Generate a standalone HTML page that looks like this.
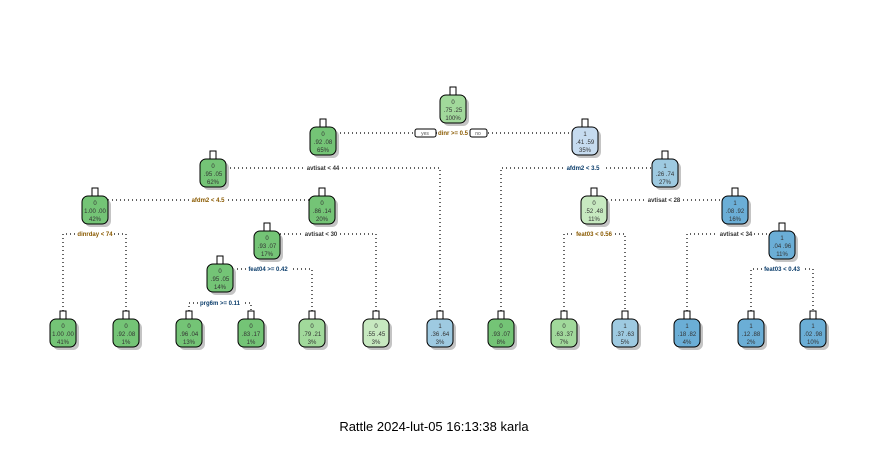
<!DOCTYPE html>
<html><head><meta charset="utf-8"><style>
html,body{margin:0;padding:0;background:#fff;width:876px;height:453px;overflow:hidden}
svg{display:block}
.n text{font-family:"Liberation Sans",sans-serif;font-size:6px;fill:#333;text-anchor:middle}
.sl{font-family:"Liberation Sans",sans-serif;font-size:6px;font-weight:bold;fill:#333;text-anchor:middle}
.ln{stroke:#000;stroke-width:1.2;stroke-dasharray:1,3;fill:none}
</style></head><body>
<svg width="876" height="453" viewBox="0 0 876 453">
<defs>
<g id="nd">
<rect x="-10" y="3" width="26" height="28" rx="6" fill="#c4c4c4"/>
</g>
</defs>
<path class="ln" d="M336 133H570"/>
<path class="ln" d="M226 168H440V319"/>
<path class="ln" d="M501 319V168H652"/>
<path class="ln" d="M108 200H309"/>
<path class="ln" d="M607 200H722"/>
<path class="ln" d="M63 319V234H126V319"/>
<path class="ln" d="M280 234H376V319"/>
<path class="ln" d="M564 319V234H625V319"/>
<path class="ln" d="M687 319V234H769"/>
<path class="ln" d="M233 269H312V319"/>
<path class="ln" d="M751 319V269H813V319"/>
<path class="ln" d="M189 319V303H251V319"/>
<rect x="415" y="129" width="21" height="8" rx="2" fill="#fff" stroke="#000" stroke-width="1"/>
<text x="425" y="135" style="font-family:'Liberation Sans',sans-serif;font-size:5px;fill:#555;text-anchor:middle">yes</text>
<rect x="470" y="129" width="17" height="8" rx="2" fill="#fff" stroke="#000" stroke-width="1"/>
<text x="478" y="135" style="font-family:'Liberation Sans',sans-serif;font-size:5px;fill:#555;text-anchor:middle">no</text>
<rect x="437" y="130" width="32" height="7" fill="#fff"/><text class="sl" x="453" y="135" style="fill:#8a5a00">dinr &gt;= 0.5</text>
<rect x="305" y="165" width="36" height="7" fill="#fff"/><text class="sl" x="323" y="170">avtisat &lt; 44</text>
<rect x="563" y="165" width="40" height="7" fill="#fff"/><text class="sl" x="583" y="170" style="fill:#0b3d6b">afdm2 &lt; 3.5</text>
<rect x="190" y="197" width="36" height="7" fill="#fff"/><text class="sl" x="208" y="202" style="fill:#8a5a00">afdm2 &lt; 4.5</text>
<rect x="646" y="197" width="36" height="7" fill="#fff"/><text class="sl" x="664" y="202">avtisat &lt; 28</text>
<rect x="76" y="231" width="38" height="7" fill="#fff"/><text class="sl" x="95" y="236" style="fill:#8a5a00">dinrday &lt; 74</text>
<rect x="303" y="231" width="36" height="7" fill="#fff"/><text class="sl" x="321" y="236">avtisat &lt; 30</text>
<rect x="575" y="231" width="38" height="7" fill="#fff"/><text class="sl" x="594" y="236" style="fill:#8a5a00">feat03 &lt; 0.56</text>
<rect x="718" y="231" width="36" height="7" fill="#fff"/><text class="sl" x="736" y="236">avtisat &lt; 34</text>
<rect x="246" y="266" width="44" height="7" fill="#fff"/><text class="sl" x="268" y="271" style="fill:#0b3d6b">feat04 &gt;= 0.42</text>
<rect x="762" y="266" width="40" height="7" fill="#fff"/><text class="sl" x="782" y="271" style="fill:#0b3d6b">feat03 &lt; 0.43</text>
<rect x="198" y="300" width="44" height="7" fill="#fff"/><text class="sl" x="220" y="305" style="fill:#0b3d6b">prg6m &gt;= 0.11</text>

<g class="n" transform="translate(453,95)"><use href="#nd"/><rect x="-13" y="0" width="26" height="28" rx="6" fill="#a1d99b" stroke="#000"/><rect x="-3" y="-8" width="6" height="8" fill="#fff" stroke="#000"/><text y="9">0</text><text y="17">.75  .25</text><text y="25">100%</text></g>
<g class="n" transform="translate(323,127)"><use href="#nd"/><rect x="-13" y="0" width="26" height="28" rx="6" fill="#74c476" stroke="#000"/><rect x="-3" y="-8" width="6" height="8" fill="#fff" stroke="#000"/><text y="9">0</text><text y="17">.92  .08</text><text y="25">65%</text></g>
<g class="n" transform="translate(585,127)"><use href="#nd"/><rect x="-13" y="0" width="26" height="28" rx="6" fill="#c6dbef" stroke="#000"/><rect x="-3" y="-8" width="6" height="8" fill="#fff" stroke="#000"/><text y="9">1</text><text y="17">.41  .59</text><text y="25">35%</text></g>
<g class="n" transform="translate(213,159)"><use href="#nd"/><rect x="-13" y="0" width="26" height="28" rx="6" fill="#74c476" stroke="#000"/><rect x="-3" y="-8" width="6" height="8" fill="#fff" stroke="#000"/><text y="9">0</text><text y="17">.95  .05</text><text y="25">62%</text></g>
<g class="n" transform="translate(665,159)"><use href="#nd"/><rect x="-13" y="0" width="26" height="28" rx="6" fill="#9ecae1" stroke="#000"/><rect x="-3" y="-8" width="6" height="8" fill="#fff" stroke="#000"/><text y="9">1</text><text y="17">.26  .74</text><text y="25">27%</text></g>
<g class="n" transform="translate(95,196)"><use href="#nd"/><rect x="-13" y="0" width="26" height="28" rx="6" fill="#74c476" stroke="#000"/><rect x="-3" y="-8" width="6" height="8" fill="#fff" stroke="#000"/><text y="9">0</text><text y="17">1.00  .00</text><text y="25">42%</text></g>
<g class="n" transform="translate(322,196)"><use href="#nd"/><rect x="-13" y="0" width="26" height="28" rx="6" fill="#74c476" stroke="#000"/><rect x="-3" y="-8" width="6" height="8" fill="#fff" stroke="#000"/><text y="9">0</text><text y="17">.86  .14</text><text y="25">20%</text></g>
<g class="n" transform="translate(594,196)"><use href="#nd"/><rect x="-13" y="0" width="26" height="28" rx="6" fill="#c7e9c0" stroke="#000"/><rect x="-3" y="-8" width="6" height="8" fill="#fff" stroke="#000"/><text y="9">0</text><text y="17">.52  .48</text><text y="25">11%</text></g>
<g class="n" transform="translate(735,196)"><use href="#nd"/><rect x="-13" y="0" width="26" height="28" rx="6" fill="#6baed6" stroke="#000"/><rect x="-3" y="-8" width="6" height="8" fill="#fff" stroke="#000"/><text y="9">1</text><text y="17">.08  .92</text><text y="25">16%</text></g>
<g class="n" transform="translate(267,231)"><use href="#nd"/><rect x="-13" y="0" width="26" height="28" rx="6" fill="#74c476" stroke="#000"/><rect x="-3" y="-8" width="6" height="8" fill="#fff" stroke="#000"/><text y="9">0</text><text y="17">.93  .07</text><text y="25">17%</text></g>
<g class="n" transform="translate(782,231)"><use href="#nd"/><rect x="-13" y="0" width="26" height="28" rx="6" fill="#6baed6" stroke="#000"/><rect x="-3" y="-8" width="6" height="8" fill="#fff" stroke="#000"/><text y="9">1</text><text y="17">.04  .96</text><text y="25">11%</text></g>
<g class="n" transform="translate(220,264)"><use href="#nd"/><rect x="-13" y="0" width="26" height="28" rx="6" fill="#74c476" stroke="#000"/><rect x="-3" y="-8" width="6" height="8" fill="#fff" stroke="#000"/><text y="9">0</text><text y="17">.95  .05</text><text y="25">14%</text></g>
<g class="n" transform="translate(63,319)"><use href="#nd"/><rect x="-13" y="0" width="26" height="28" rx="6" fill="#74c476" stroke="#000"/><rect x="-3" y="-8" width="6" height="8" fill="#fff" stroke="#000"/><text y="9">0</text><text y="17">1.00  .00</text><text y="25">41%</text></g>
<g class="n" transform="translate(126,319)"><use href="#nd"/><rect x="-13" y="0" width="26" height="28" rx="6" fill="#74c476" stroke="#000"/><rect x="-3" y="-8" width="6" height="8" fill="#fff" stroke="#000"/><text y="9">0</text><text y="17">.92  .08</text><text y="25">1%</text></g>
<g class="n" transform="translate(189,319)"><use href="#nd"/><rect x="-13" y="0" width="26" height="28" rx="6" fill="#74c476" stroke="#000"/><rect x="-3" y="-8" width="6" height="8" fill="#fff" stroke="#000"/><text y="9">0</text><text y="17">.96  .04</text><text y="25">13%</text></g>
<g class="n" transform="translate(251,319)"><use href="#nd"/><rect x="-13" y="0" width="26" height="28" rx="6" fill="#74c476" stroke="#000"/><rect x="-3" y="-8" width="6" height="8" fill="#fff" stroke="#000"/><text y="9">0</text><text y="17">.83  .17</text><text y="25">1%</text></g>
<g class="n" transform="translate(312,319)"><use href="#nd"/><rect x="-13" y="0" width="26" height="28" rx="6" fill="#a1d99b" stroke="#000"/><rect x="-3" y="-8" width="6" height="8" fill="#fff" stroke="#000"/><text y="9">0</text><text y="17">.79  .21</text><text y="25">3%</text></g>
<g class="n" transform="translate(376,319)"><use href="#nd"/><rect x="-13" y="0" width="26" height="28" rx="6" fill="#c7e9c0" stroke="#000"/><rect x="-3" y="-8" width="6" height="8" fill="#fff" stroke="#000"/><text y="9">0</text><text y="17">.55  .45</text><text y="25">3%</text></g>
<g class="n" transform="translate(440,319)"><use href="#nd"/><rect x="-13" y="0" width="26" height="28" rx="6" fill="#9ecae1" stroke="#000"/><rect x="-3" y="-8" width="6" height="8" fill="#fff" stroke="#000"/><text y="9">1</text><text y="17">.36  .64</text><text y="25">3%</text></g>
<g class="n" transform="translate(501,319)"><use href="#nd"/><rect x="-13" y="0" width="26" height="28" rx="6" fill="#74c476" stroke="#000"/><rect x="-3" y="-8" width="6" height="8" fill="#fff" stroke="#000"/><text y="9">0</text><text y="17">.93  .07</text><text y="25">8%</text></g>
<g class="n" transform="translate(564,319)"><use href="#nd"/><rect x="-13" y="0" width="26" height="28" rx="6" fill="#a1d99b" stroke="#000"/><rect x="-3" y="-8" width="6" height="8" fill="#fff" stroke="#000"/><text y="9">0</text><text y="17">.63  .37</text><text y="25">7%</text></g>
<g class="n" transform="translate(625,319)"><use href="#nd"/><rect x="-13" y="0" width="26" height="28" rx="6" fill="#9ecae1" stroke="#000"/><rect x="-3" y="-8" width="6" height="8" fill="#fff" stroke="#000"/><text y="9">1</text><text y="17">.37  .63</text><text y="25">5%</text></g>
<g class="n" transform="translate(687,319)"><use href="#nd"/><rect x="-13" y="0" width="26" height="28" rx="6" fill="#6baed6" stroke="#000"/><rect x="-3" y="-8" width="6" height="8" fill="#fff" stroke="#000"/><text y="9">1</text><text y="17">.18  .82</text><text y="25">4%</text></g>
<g class="n" transform="translate(751,319)"><use href="#nd"/><rect x="-13" y="0" width="26" height="28" rx="6" fill="#6baed6" stroke="#000"/><rect x="-3" y="-8" width="6" height="8" fill="#fff" stroke="#000"/><text y="9">1</text><text y="17">.12  .88</text><text y="25">2%</text></g>
<g class="n" transform="translate(813,319)"><use href="#nd"/><rect x="-13" y="0" width="26" height="28" rx="6" fill="#6baed6" stroke="#000"/><rect x="-3" y="-8" width="6" height="8" fill="#fff" stroke="#000"/><text y="9">1</text><text y="17">.02  .98</text><text y="25">10%</text></g>

<text x="434" y="431" style="font-family:'Liberation Sans',sans-serif;font-size:13px;fill:#000;text-anchor:middle">Rattle 2024-lut-05 16:13:38 karla</text>
</svg>
</body></html>
